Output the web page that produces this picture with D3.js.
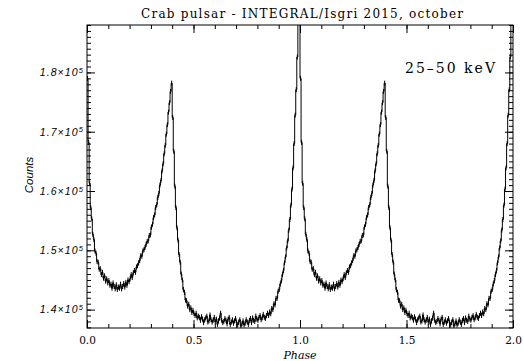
<!DOCTYPE html>
<html>
<head>
<meta charset="utf-8">
<script src="https://cdn.jsdelivr.net/npm/d3@7"></script>
<style>
body{margin:0;background:#fff;}
</style>
</head>
<body>
<div id="chart"></div>
<script>
// textes
var title = "Crab pulsar - INTEGRAL/Isgri 2015, october";
var bandLabel = "25\u201350 keV";
var xLabel = "Phase";
var yLabel = "Counts";

// ticks
var xTicks = [0.0, 0.5, 1.0, 1.5, 2.0];
var xMinorStep = 0.1;
var yTicks = [140000, 150000, 160000, 170000, 180000];
var yMinorStep = 1000;
var yDomain = [136900, 188000];

// profil d'une période (bins de 0.005 en phase), répété deux fois
var binWidth = 0.005;
var cycles = [0, 1];
var countErr = 420;
var profile = [
  179000,168200,161300,157200,155300,152700,151800,149900,149500,148100,
  148000,146800,146900,145900,146300,145300,145700,144800,145200,144500,
  144900,144100,144300,143600,144500,143900,143500,144200,143400,143800,
  143600,144300,143500,143900,144400,143800,144600,144100,145000,144700,
  145200,145900,145400,146200,146600,146300,147200,147400,147900,148300,
  149100,149000,149900,150100,150500,151000,151500,151600,152500,152600,
  153900,154400,155500,156000,157200,157700,158900,159600,161000,161800,
  163400,164600,166300,167700,169600,171200,173300,174900,176800,178200,
  172400,166700,160800,157200,153800,151700,149300,148000,146000,145000,
  143400,142900,141600,141500,140600,140900,140000,140300,139500,139900,
  139300,139000,139400,138600,138900,138700,138200,138800,138400,137800,
  138300,138600,138900,137900,138100,139100,138300,137900,138200,138700,
  137900,138400,137500,138100,138600,139400,138200,137800,138000,138500,
  138200,137600,138400,138700,137500,137900,138300,137700,138100,138500,
  137800,137400,137900,138300,137200,137600,138100,137400,137700,138300,
  137900,137500,138200,138500,137800,138600,138200,138000,138900,138400,
  138200,138700,139000,138300,138600,139200,138700,138500,139000,139400,
  139000,139600,139300,140200,140000,141000,140800,141900,141900,143100,
  143400,144300,144900,145900,146600,147900,148900,150400,151600,153400,
  155200,157600,160300,163900,168000,172800,177100,182600,189500,196000
];

var width = 524, height = 361;
var margin = {left: 87, right: 11, top: 25, bottom: 33};
var w = width - margin.left - margin.right,
    h = height - margin.top - margin.bottom;

var svg = d3.select("#chart").append("svg")
  .attr("width", width)
  .attr("height", height);

var x = d3.scaleLinear().domain([0, 2]).range([0, w]);
var y = d3.scaleLinear().domain(yDomain).range([h, 0]);

var g = svg.append("g").attr("transform", "translate(" + margin.left + "," + margin.top + ")");

// données -> bins
var bins = [];
cycles.forEach(function(c){
  profile.forEach(function(v, i){
    bins.push({x0: c + i * binWidth, v: v});
  });
});

g.append("clipPath").attr("id", "clip")
  .append("rect").attr("width", w).attr("height", h);

var plot = g.append("g").attr("clip-path", "url(#clip)");

// barres d'erreur
plot.selectAll("line.err")
  .data(bins)
  .enter().append("line")
  .attr("class", "err")
  .attr("x1", function(d){ return x(d.x0 + binWidth / 2); })
  .attr("x2", function(d){ return x(d.x0 + binWidth / 2); })
  .attr("y1", function(d){ return y(d.v - countErr); })
  .attr("y2", function(d){ return y(d.v + countErr); })
  .attr("stroke", "#000")
  .attr("stroke-width", 1);

// histogramme
var stepPts = bins.concat([{x0: 2, v: bins[bins.length - 1].v}]);
var line = d3.line()
  .x(function(d){ return x(d.x0); })
  .y(function(d){ return y(d.v); })
  .curve(d3.curveStepAfter);

plot.append("path")
  .datum(stepPts)
  .attr("d", line)
  .attr("fill", "none")
  .attr("stroke", "#000")
  .attr("stroke-width", 1);

// axes
var xMinor = d3.range(0, 2 + 1e-9, xMinorStep);
var yMinor = d3.range(137000, 188001, yMinorStep);

function styleAxis(sel){
  sel.select(".domain").remove();
  sel.selectAll(".tick line").attr("stroke", "#000");
}

g.append("g").attr("transform", "translate(0," + h + ")")
  .call(d3.axisBottom(x).tickValues(xMinor).tickSizeInner(-4).tickSizeOuter(0).tickFormat(""))
  .call(styleAxis);
g.append("g").attr("transform", "translate(0," + h + ")")
  .call(d3.axisBottom(x).tickValues(xTicks).tickSizeInner(-8).tickSizeOuter(0).tickPadding(9).tickFormat(d3.format(".1f")))
  .call(styleAxis)
  .selectAll("text")
  .attr("font-family", "DejaVu Serif")
  .attr("font-size", "10.5px")
  .attr("fill", "#000");

g.append("g")
  .call(d3.axisTop(x).tickValues(xMinor).tickSizeInner(-4).tickSizeOuter(0).tickFormat(""))
  .call(styleAxis);
g.append("g")
  .call(d3.axisTop(x).tickValues(xTicks).tickSizeInner(-8).tickSizeOuter(0).tickFormat(""))
  .call(styleAxis);

g.append("g")
  .call(d3.axisLeft(y).tickValues(yMinor).tickSizeInner(-4).tickSizeOuter(0).tickFormat(""))
  .call(styleAxis);
g.append("g")
  .call(d3.axisLeft(y).tickValues(yTicks).tickSizeInner(-8).tickSizeOuter(0).tickPadding(3))
  .call(styleAxis)
  .selectAll("text")
  .attr("font-family", "Liberation Sans")
  .attr("font-style", "italic")
  .attr("font-size", "10.5px")
  .attr("letter-spacing", "1.1px")
  .attr("fill", "#000")
  .each(function(d){
    var t = d3.select(this);
    t.text(null);
    t.append("tspan").text((d / 1e5).toFixed(1) + "\u00d710");
    t.append("tspan").attr("dy", "-0.45em").attr("font-size", "7.5px").text("5");
  });

g.append("g").attr("transform", "translate(" + w + ",0)")
  .call(d3.axisRight(y).tickValues(yMinor).tickSizeInner(-4).tickSizeOuter(0).tickFormat(""))
  .call(styleAxis);
g.append("g").attr("transform", "translate(" + w + ",0)")
  .call(d3.axisRight(y).tickValues(yTicks).tickSizeInner(-8).tickSizeOuter(0).tickFormat(""))
  .call(styleAxis);

// cadre
g.append("rect")
  .attr("width", w).attr("height", h)
  .attr("fill", "none")
  .attr("stroke", "#000")
  .attr("stroke-width", 1);

// textes
svg.append("text")
  .attr("x", 302).attr("y", 18)
  .attr("text-anchor", "middle")
  .attr("font-family", "DejaVu Serif")
  .attr("font-size", "12px")
  .attr("textLength", 322)
  .attr("lengthAdjust", "spacing")
  .text(title);

svg.append("text")
  .attr("x", 405).attr("y", 73)
  .attr("font-family", "DejaVu Serif")
  .attr("font-size", "14px")
  .attr("textLength", 90)
  .attr("lengthAdjust", "spacing")
  .text(bandLabel);

svg.append("text")
  .attr("x", margin.left + w / 2).attr("y", 359)
  .attr("text-anchor", "middle")
  .attr("font-family", "DejaVu Serif")
  .attr("font-style", "italic")
  .attr("font-size", "11px")
  .text(xLabel);

svg.append("text")
  .attr("transform", "translate(33,175) rotate(-90)")
  .attr("text-anchor", "middle")
  .attr("font-family", "Liberation Sans")
  .attr("font-style", "italic")
  .attr("font-size", "11.5px")
  .text(yLabel);
</script>
</body>
</html>
